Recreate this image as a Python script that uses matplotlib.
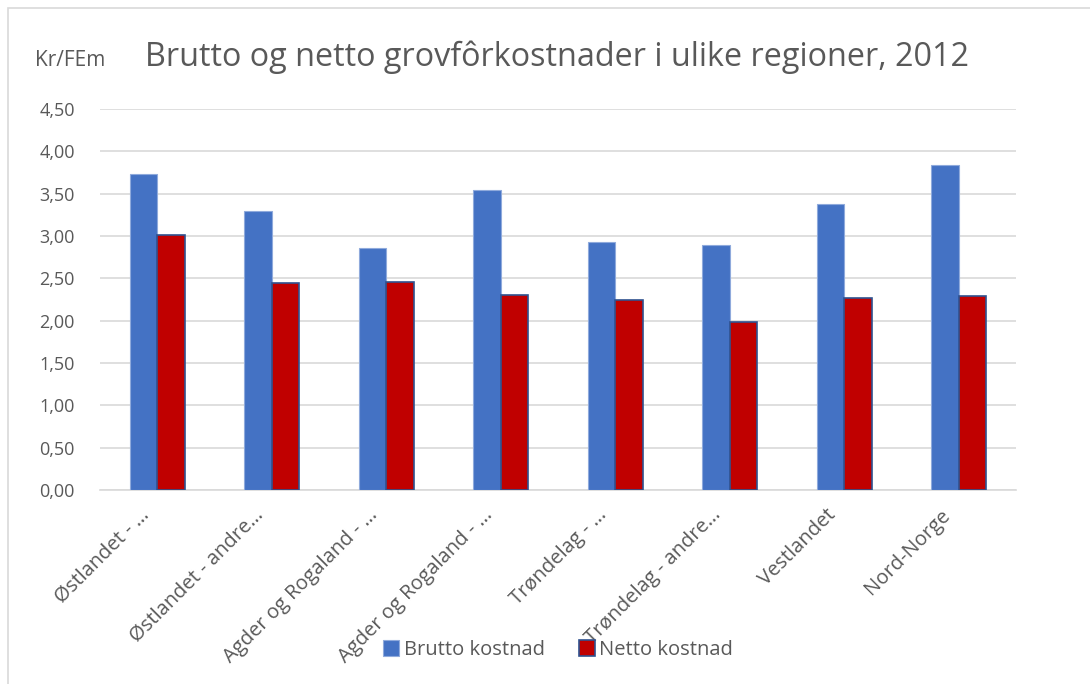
import numpy as np
import matplotlib.pyplot as plt
import matplotlib.transforms as mtransforms
from matplotlib.patches import Rectangle

regions = ['Østlandet - …', 'Østlandet - andre…', 'Agder og Rogaland - …',
           'Agder og Rogaland - …', 'Trøndelag - …', 'Trøndelag - andre…',
           'Vestlandet', 'Nord-Norge']
brutto = [3.73, 3.30, 2.86, 3.54, 2.93, 2.89, 3.38, 3.84]
netto = [3.01, 2.44, 2.46, 2.30, 2.25, 1.99, 2.27, 2.29]
yticks = [0, 0.5, 1.0, 1.5, 2.0, 2.5, 3.0, 3.5, 4.0, 4.5]

plt.rcParams['font.family'] = ['Open Sans', 'DejaVu Sans']
txt = '#595959'

fig = plt.figure(figsize=(10.9, 6.84), dpi=100)
ax = fig.add_axes([0.0917, 0.2836, 0.8403, 0.557])

x = np.arange(len(regions))
w = 0.24
ax.bar(x - w / 2, brutto, w, color='#4472C4', edgecolor='#8FAADC', linewidth=0.8,
       label='Brutto kostnad', zorder=3)
ax.bar(x + w / 2, netto, w, color='#C00000', edgecolor='#2F528F', linewidth=1.2,
       label='Netto kostnad', zorder=3)

ax.set_xlim(-0.5, len(regions) - 0.5)
ax.set_ylim(0, 4.5)
ax.set_yticks(yticks)
ax.set_yticklabels([f'{v:.2f}'.replace('.', ',') for v in yticks], fontsize=13, color=txt)
ax.set_xticks(x)
ax.set_xticklabels(regions, rotation=45, ha='right', va='center', rotation_mode='anchor',
                   fontsize=14.5, color=txt)
ax.tick_params(length=0)
ax.tick_params(axis='y', pad=18)
ax.tick_params(axis='x', pad=16)
# nudge the rotated labels a little to the left, as in the original
shift = mtransforms.ScaledTranslation(-8 / 72, 0, fig.dpi_scale_trans)
for lab in ax.get_xticklabels():
    lab.set_transform(lab.get_transform() + shift)
ax.grid(axis='y', color='#D9D9D9', linewidth=1.2, zorder=0)
for s in ['top', 'right', 'left']:
    ax.spines[s].set_visible(False)
ax.spines['bottom'].set_color('#D9D9D9')
ax.spines['bottom'].set_linewidth(1.2)

fig.text(0.032, 0.912, 'Kr/FEm', fontsize=15, color=txt, va='center')
fig.text(0.133, 0.917, 'Brutto og netto grovfôrkostnader i ulike regioner, 2012',
         fontsize=23.3, color=txt, va='center')

fig.legend(loc='center', bbox_to_anchor=(0.512, 0.05), ncol=2, frameon=False,
           fontsize=14.5, labelcolor=txt, handlelength=0.8, handleheight=0.8,
           handletextpad=0.2, columnspacing=1.7)

fig.patches.append(Rectangle((0.007, -0.01), 1.2, 0.999, transform=fig.transFigure,
                             fill=False, edgecolor='#D9D9D9', linewidth=1.2))

fig.savefig('out.png', dpi=100)
